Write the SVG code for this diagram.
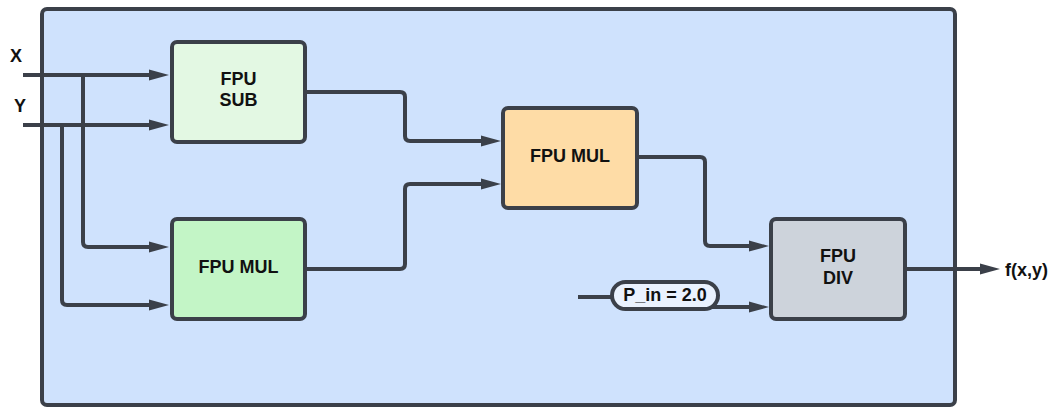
<svg xmlns="http://www.w3.org/2000/svg" width="1057" height="407" viewBox="0 0 1057 407">
<defs>
<style>
.box{stroke:#3b4049;stroke-width:4}
.lbl{font-family:"Liberation Sans",Arial,sans-serif;font-weight:bold;font-size:18px;fill:#111;text-anchor:middle}
.wire{fill:none;stroke:#3b4049;stroke-width:4;stroke-linejoin:round}
.arr{marker-end:url(#ah)}
</style>
<marker id="ah" markerUnits="userSpaceOnUse" markerWidth="20" markerHeight="12" refX="2" refY="6" orient="auto" viewBox="0 0 20 12">
<path d="M0,0.5 L20,6 L0,11.5 z" fill="#3b4049"/>
</marker>
</defs>
<g id="container">
<rect x="42" y="9" width="913" height="396" rx="5" fill="#cfe2fd" class="box"/>
</g>
<g id="connectors">
<path class="wire arr" d="M23,75 H151"/>
<path class="wire arr" d="M23,125 H151"/>
<path class="wire arr" d="M83,75 V242 Q83,247 88,247 H151"/>
<path class="wire arr" d="M62,125 V300 Q62,305 67,305 H151"/>
<path class="wire arr" d="M305,92 H400 Q405,92 405,97 V136 Q405,141 410,141 H483"/>
<path class="wire arr" d="M305,269 H400 Q405,269 405,264 V189 Q405,184 410,184 H483"/>
<path class="wire arr" d="M637,157 H700 Q705,157 705,162 V241 Q705,246 710,246 H751"/>
<path class="wire arr" d="M905,269 H982"/>
<path class="wire" d="M578,297 H615"/>
<path class="wire arr" d="M705,307 H751"/>
</g>
<g id="label-x"><text class="lbl" x="16" y="62">X</text></g>
<g id="label-y"><text class="lbl" x="20" y="112">Y</text></g>
<g id="fpu-sub">
<rect x="172" y="42" width="133" height="100" rx="5" fill="#e3f8e3" class="box"/>
<text class="lbl" x="238.5" y="85">FPU</text>
<text class="lbl" x="238.5" y="106">SUB</text>
</g>
<g id="fpu-mul-1">
<rect x="172" y="219" width="133" height="100" rx="5" fill="#c3f5c6" class="box"/>
<text class="lbl" x="238.5" y="273">FPU MUL</text>
</g>
<g id="fpu-mul-2">
<rect x="503" y="108" width="134" height="100" rx="5" fill="#fedca6" class="box"/>
<text class="lbl" x="570" y="162">FPU MUL</text>
</g>
<g id="fpu-div">
<rect x="771" y="219" width="134" height="100" rx="5" fill="#cdd3db" class="box"/>
<text class="lbl" x="838" y="262">FPU</text>
<text class="lbl" x="838" y="284">DIV</text>
</g>
<g id="p-in">
<rect x="612" y="282" width="106" height="27" rx="13.5" fill="#eaf2fe" class="box"/>
<text class="lbl" x="665" y="301">P_in = 2.0</text>
</g>
<g id="label-out"><text class="lbl" x="1005" y="276" style="text-anchor:start">f(x,y)</text></g>
</svg>
